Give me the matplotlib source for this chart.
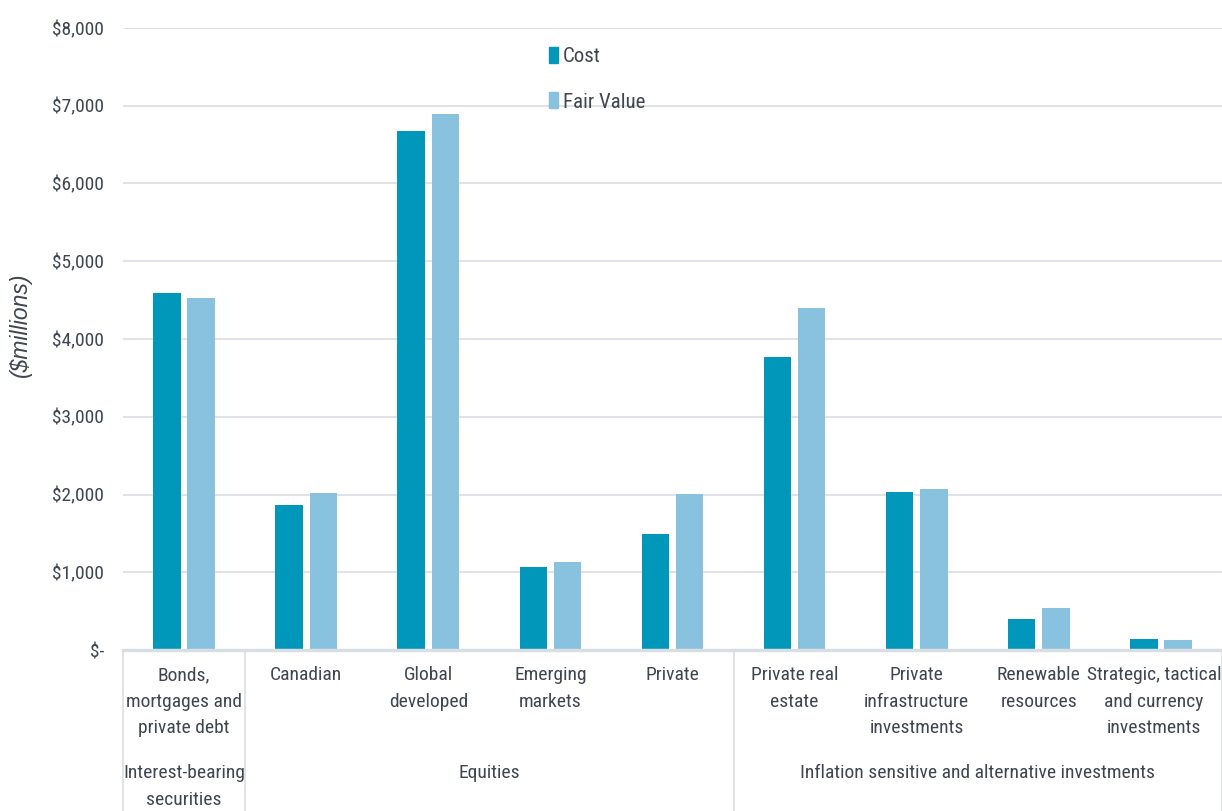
import matplotlib.pyplot as plt
import numpy as np
from matplotlib.patches import Patch
from matplotlib import transforms

plt.rcParams['font.family'] = ['Roboto Condensed', 'Liberation Sans', 'DejaVu Sans']

categories = ["Bonds,\nmortgages and\nprivate debt", "Canadian", "Global\ndeveloped",
              "Emerging\nmarkets", "Private", "Private real\nestate",
              "Private\ninfrastructure\ninvestments", "Renewable\nresources",
              "Strategic, tactical\nand currency\ninvestments"]
cost = [4590, 1865, 6675, 1065, 1490, 3770, 2030, 400, 140]
fair_value = [4525, 2020, 6895, 1130, 2005, 4400, 2070, 535, 125]
groups = ["Interest-bearing\nsecurities", "Equities", "Inflation sensitive and alternative investments"]
group_bounds = [(-0.5, 0.5), (0.5, 4.5), (4.5, 8.5)]
yticks = [0, 1000, 2000, 3000, 4000, 5000, 6000, 7000, 8000]
ytick_labels = ["$-", "$1,000", "$2,000", "$3,000", "$4,000", "$5,000", "$6,000", "$7,000", "$8,000"]

c_cost = "#0097BA"
c_fair = "#88C2DF"
txt = "#3F4650"
line_c = "#D9DEE3"

fig = plt.figure(figsize=(12.22, 8.11), dpi=100)
ax = fig.add_axes([0.1007, 0.1985, 0.8993, 0.767])

x = np.arange(len(categories))
w = 0.225
ax.bar(x - 0.14, cost, w, color=c_cost, zorder=3)
ax.bar(x + 0.14, fair_value, w, color=c_fair, zorder=3)

ax.set_xlim(-0.5, len(categories) - 0.5)
ax.set_ylim(0, 8000)
ax.set_yticks(yticks)
ax.set_yticklabels(ytick_labels, fontsize=14, color=txt)
ax.tick_params(axis='y', length=0, pad=13.5)
ax.set_xticks([])
for s in ax.spines.values():
    s.set_visible(False)
ax.grid(axis='y', color=line_c, linewidth=1.2, zorder=0)
ax.set_axisbelow(True)
fig.text(0.0165, 0.600, "($millions)", fontsize=16.5, style='italic', color=txt, rotation=90,
         ha='center', va='center', family=['Liberation Sans', 'DejaVu Sans'])

# table-like category axis
trans = transforms.blended_transform_factory(ax.transData, ax.transAxes)
ax.plot([-0.5, 8.5], [0, 0], transform=trans, color=line_c, lw=2.5, clip_on=False, zorder=4)
bottom = -0.262
for xb in [-0.5, 0.5, 4.5, 8.5]:
    ax.plot([xb, xb], [0, bottom], transform=trans, color=line_c, lw=1.2, clip_on=False)

for xi, lab in zip(x, categories):
    if xi == len(categories) - 1:
        # last label sits flush with the right edge
        ax.text(xi + 0.495, -0.026, lab, transform=trans, ha='right', va='top', fontsize=14,
                color=txt, linespacing=1.6, multialignment='center')
    else:
        ax.text(xi, -0.026, lab, transform=trans, ha='center', va='top', fontsize=14,
                color=txt, linespacing=1.6)
for (a, b), g in zip(group_bounds, groups):
    ax.text((a + b) / 2, -0.184, g, transform=trans, ha='center', va='top', fontsize=14,
            color=txt, linespacing=1.6)

handles = [Patch(color=c_cost, label="Cost"), Patch(color=c_fair, label="Fair Value")]
leg = fig.legend(handles=handles, loc='upper left', bbox_to_anchor=(0.434, 0.965),
                 frameon=False, fontsize=15, handlelength=0.42, handleheight=0.8,
                 handletextpad=0.25, labelspacing=1.25)
for t in leg.get_texts():
    t.set_color(txt)

plt.savefig("out.png", dpi=100)
